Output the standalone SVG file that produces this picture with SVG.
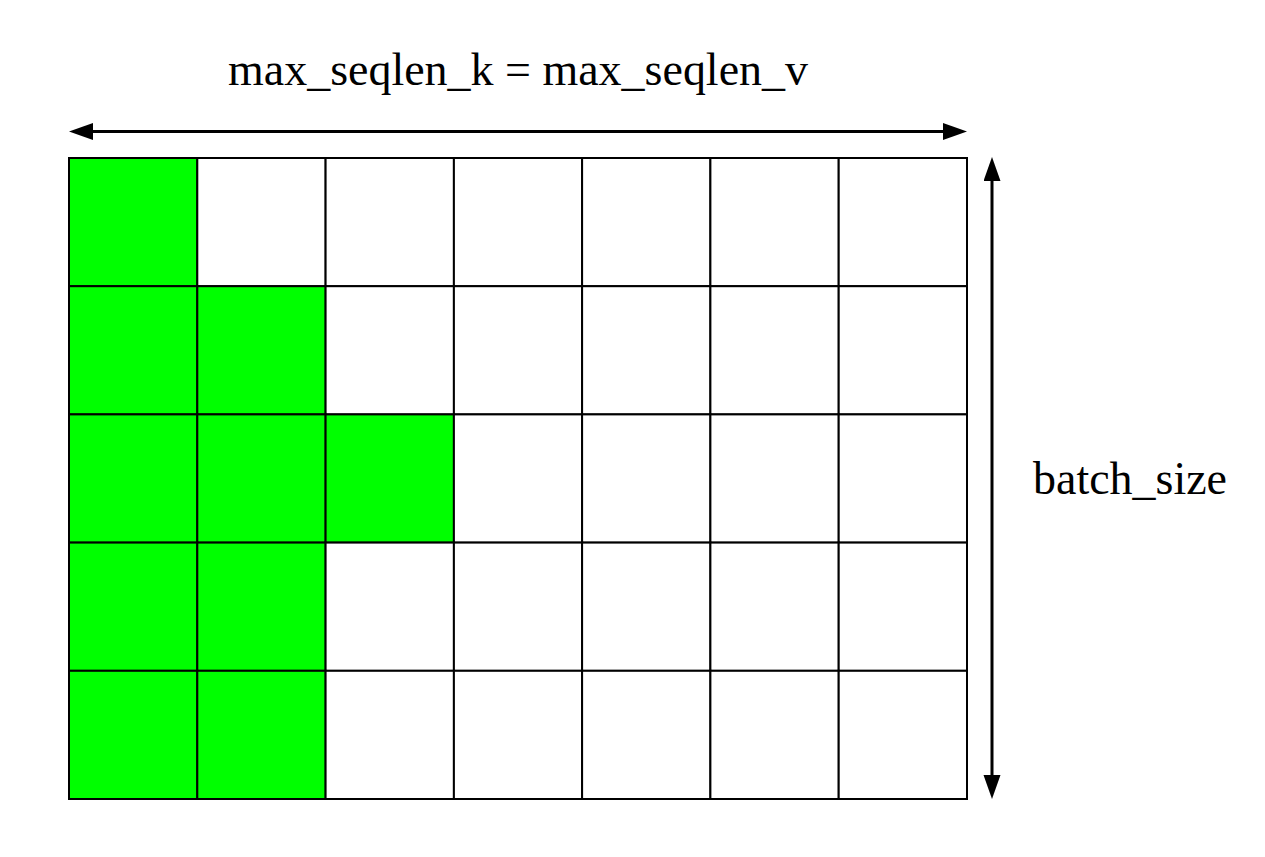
<svg xmlns="http://www.w3.org/2000/svg" width="1265" height="857" viewBox="0 0 1265 857">
<defs>
<style>
.cell{stroke:#000;stroke-width:2;fill:#fff}
.on{fill:#00ff00}
.conn{stroke:#000;stroke-width:3;fill:none}
.lbl{font-family:"Liberation Serif","DejaVu Serif",serif;font-size:46px;fill:#000}
</style>
<marker id="ah" markerUnits="userSpaceOnUse" markerWidth="26" markerHeight="18" refX="14" refY="8.5" orient="auto-start-reverse">
<path d="M0,0 L24,8.5 L0,17 Z" fill="#000"/>
</marker>
</defs>
<rect width="1265" height="857" fill="#fff"/>
<g id="grid">
<g id="row0">
<rect class="cell on" x="69" y="158" width="128.3" height="128.2"/>
<rect class="cell" x="197.3" y="158" width="128.3" height="128.2"/>
<rect class="cell" x="325.6" y="158" width="128.3" height="128.2"/>
<rect class="cell" x="453.9" y="158" width="128.3" height="128.2"/>
<rect class="cell" x="582.1" y="158" width="128.3" height="128.2"/>
<rect class="cell" x="710.4" y="158" width="128.3" height="128.2"/>
<rect class="cell" x="838.7" y="158" width="128.3" height="128.2"/>
</g>
<g id="row1">
<rect class="cell on" x="69" y="286.2" width="128.3" height="128.2"/>
<rect class="cell on" x="197.3" y="286.2" width="128.3" height="128.2"/>
<rect class="cell" x="325.6" y="286.2" width="128.3" height="128.2"/>
<rect class="cell" x="453.9" y="286.2" width="128.3" height="128.2"/>
<rect class="cell" x="582.1" y="286.2" width="128.3" height="128.2"/>
<rect class="cell" x="710.4" y="286.2" width="128.3" height="128.2"/>
<rect class="cell" x="838.7" y="286.2" width="128.3" height="128.2"/>
</g>
<g id="row2">
<rect class="cell on" x="69" y="414.4" width="128.3" height="128.2"/>
<rect class="cell on" x="197.3" y="414.4" width="128.3" height="128.2"/>
<rect class="cell on" x="325.6" y="414.4" width="128.3" height="128.2"/>
<rect class="cell" x="453.9" y="414.4" width="128.3" height="128.2"/>
<rect class="cell" x="582.1" y="414.4" width="128.3" height="128.2"/>
<rect class="cell" x="710.4" y="414.4" width="128.3" height="128.2"/>
<rect class="cell" x="838.7" y="414.4" width="128.3" height="128.2"/>
</g>
<g id="row3">
<rect class="cell on" x="69" y="542.6" width="128.3" height="128.2"/>
<rect class="cell on" x="197.3" y="542.6" width="128.3" height="128.2"/>
<rect class="cell" x="325.6" y="542.6" width="128.3" height="128.2"/>
<rect class="cell" x="453.9" y="542.6" width="128.3" height="128.2"/>
<rect class="cell" x="582.1" y="542.6" width="128.3" height="128.2"/>
<rect class="cell" x="710.4" y="542.6" width="128.3" height="128.2"/>
<rect class="cell" x="838.7" y="542.6" width="128.3" height="128.2"/>
</g>
<g id="row4">
<rect class="cell on" x="69" y="670.8" width="128.3" height="128.2"/>
<rect class="cell on" x="197.3" y="670.8" width="128.3" height="128.2"/>
<rect class="cell" x="325.6" y="670.8" width="128.3" height="128.2"/>
<rect class="cell" x="453.9" y="670.8" width="128.3" height="128.2"/>
<rect class="cell" x="582.1" y="670.8" width="128.3" height="128.2"/>
<rect class="cell" x="710.4" y="670.8" width="128.3" height="128.2"/>
<rect class="cell" x="838.7" y="670.8" width="128.3" height="128.2"/>
</g>
</g>
<g id="connectors">
<line class="conn" x1="79" y1="131.5" x2="957" y2="131.5" marker-start="url(#ah)" marker-end="url(#ah)"/>
<line class="conn" x1="992" y1="167" x2="992" y2="789" marker-start="url(#ah)" marker-end="url(#ah)"/>
</g>
<g id="label-top">
<text class="lbl" x="228" y="85" textLength="580" lengthAdjust="spacingAndGlyphs">max_seqlen_k = max_seqlen_v</text>
</g>
<g id="label-right">
<text class="lbl" x="1033" y="494" textLength="194" lengthAdjust="spacingAndGlyphs">batch_size</text>
</g>
</svg>
